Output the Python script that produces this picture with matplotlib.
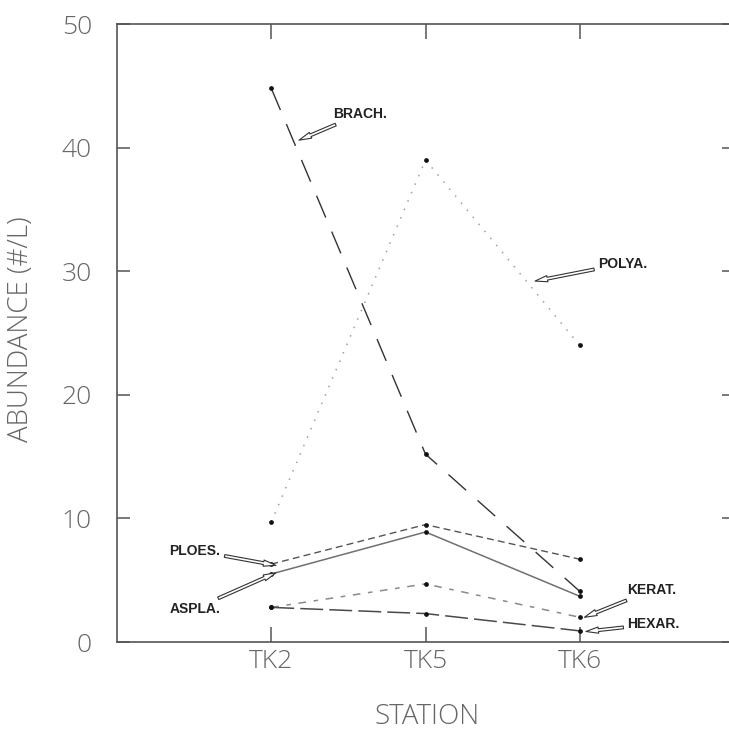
import matplotlib
matplotlib.use("Agg")
import matplotlib.pyplot as plt

# Abundance of taxa at each station
stations = ["TK2", "TK5", "TK6"]
brach = [44.8, 15.2, 4.1]
polya = [9.7, 39.0, 24.0]
ploes = [6.3, 9.5, 6.7]
aspla = [5.5, 8.9, 3.7]
kerat = [2.8, 4.7, 2.0]
hexar = [2.8, 2.3, 0.9]

y_ticks = [0, 10, 20, 30, 40, 50]

W, H = 729, 739
fig = plt.figure(figsize=(W / 100, H / 100), dpi=100)
fig.patch.set_facecolor("white")

left_px, right_px, top_px, bottom_px = 117, 734, 24, 642
ax = fig.add_axes([left_px / W, 1 - bottom_px / H,
                   (right_px - left_px) / W, (bottom_px - top_px) / H])

xpos = [1, 2, 3]
ax.set_xlim(0, 4)
ax.set_ylim(0, 50)

series = [
    (brach, dict(color="#333333", lw=1.0, dashes=(17, 11))),
    (polya, dict(color="#a0a0a0", lw=1.1, dashes=(1, 5))),
    (ploes, dict(color="#555555", lw=1.0, dashes=(5, 3))),
    (aspla, dict(color="#707070", lw=1.1, ls="-")),
    (kerat, dict(color="#8a8a8a", lw=1.1, dashes=(5, 5, 3, 5))),
    (hexar, dict(color="#4a4a4a", lw=1.1, dashes=(15, 4))),
]
for vals, style in series:
    ax.plot(xpos, vals, **style)
    ax.plot(xpos, vals, ls="none", marker="o", ms=2.4, color="#111111")

# Axis frame and ticks
for sp in ax.spines.values():
    sp.set_color("#555555")
    sp.set_linewidth(1.2)

grey_font = dict(family=["Open Sans", "DejaVu Sans"], fontweight="light")
grey = "#666666"
ax.set_xticks(xpos)
ax.set_xticklabels(stations)
ax.set_yticks(y_ticks)
ax.set_yticklabels([str(v) for v in y_ticks])
ax.tick_params(axis="x", direction="in", length=11, width=1.1, color="#555555",
               top=True, pad=5, labelsize=19, labelcolor=grey)
ax.tick_params(axis="y", direction="in", length=9, width=1.1, color="#555555",
               right=True, pad=18, labelsize=19, labelcolor=grey)
for lab in ax.get_xticklabels() + ax.get_yticklabels():
    lab.set_fontfamily(grey_font["family"])
    lab.set_fontweight(grey_font["fontweight"])

fig.text(21 / W, 1 - 329 / H, "ABUNDANCE (#/L)", rotation=90, ha="center",
         va="center", fontsize=20, color=grey, **grey_font)
fig.text(427 / W, 1 - 717 / H, "STATION", ha="center", va="center",
         fontsize=20, color=grey, **grey_font)

# Taxon labels with open arrows
arrow = dict(arrowstyle="simple,head_length=0.9,head_width=0.45,tail_width=0.2",
             fc="white", ec="#333333", lw=0.8, shrinkA=1, shrinkB=0)
labels = [
    ("BRACH.", (1.40, 42.7), (1.18, 40.6)),
    ("POLYA.", (3.12, 30.6), (2.71, 29.2)),
    ("PLOES.", (0.34, 7.4), (1.03, 6.2)),
    ("ASPLA.", (0.34, 2.7), (1.03, 5.6)),
    ("KERAT.", (3.31, 4.2), (3.03, 2.0)),
    ("HEXAR.", (3.31, 1.45), (3.04, 0.85)),
]
for text, xy_text, xy_tip in labels:
    ax.annotate(text, xy=xy_tip, xytext=xy_text, ha="left", va="center",
                fontsize=10, fontweight="bold", color="#222222",
                family=["Liberation Sans", "DejaVu Sans"],
                arrowprops=arrow)

fig.savefig("out.png", dpi=100)
